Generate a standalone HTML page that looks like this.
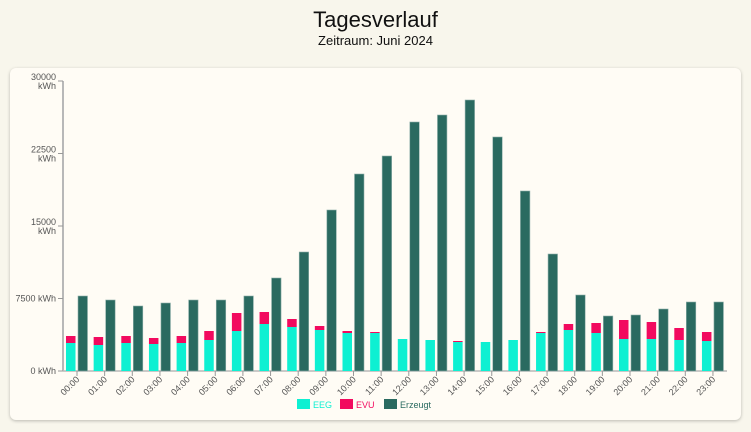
<!DOCTYPE html>
<html><head><meta charset="utf-8"><style>
html,body{margin:0;padding:0;background:#f8f6ec;width:751px;height:432px;overflow:hidden;font-family:"Liberation Sans",sans-serif}
.card{position:absolute;left:10px;top:68px;width:731px;height:352px;background:#fffcf5;border-radius:6px;box-shadow:0 1px 3px rgba(0,0,0,0.25)}
</style></head><body>
<div style="position:absolute;top:7px;width:751px;text-align:center;font-size:22px;color:#111">Tagesverlauf</div>
<div style="position:absolute;top:33px;width:751px;text-align:center;font-size:13px;color:#111">Zeitraum: Juni 2024</div>
<div class="card"></div>
<svg id="s" width="751" height="432" style="position:absolute;left:0;top:0" font-family="Liberation Sans, sans-serif"></svg>
<script>
var s=document.getElementById('s'),h='';
var erz=[296,300,306,303,300,300,296,278,252,210,174,156,122,115,100,137,191,254,295,316,315,309,302,302];
var eeg=[343,345,343,344,343,340,331,324,327,330,333,333,339,340,342,342,340,333,330,333,339,339,340,341];
var red=[336,337,336,338,336,331,313,312,319,326,331,332,339,340,341,342,340,332,324,323,320,322,328,332];
var y0=371;
h+='<line x1="63" y1="81" x2="63" y2="371" stroke="#b8b8b8" stroke-width="2"/>';
h+='<line x1="63" y1="371" x2="727" y2="371" stroke="#b8b8b8" stroke-width="1.5"/>';
var yl=[[371,'0 kWh',null],[298.5,'7500 kWh',null],[226,'15000','kWh'],[153.5,'22500','kWh'],[81,'30000','kWh']];
yl.forEach(function(a){h+='<line x1="58" x2="63" y1="'+a[0]+'" y2="'+a[0]+'" stroke="#999"/>';
if(a[2]){h+='<text x="56" y="'+(a[0]-1)+'" font-size="9" fill="#555" text-anchor="end">'+a[1]+'</text><text x="56" y="'+(a[0]+8)+'" font-size="9" fill="#555" text-anchor="end">'+a[2]+'</text>';}
else h+='<text x="56" y="'+(a[0]+3)+'" font-size="9" fill="#555" text-anchor="end">'+a[1]+'</text>';});
for(var i=0;i<24;i++){var x=66+27.65*i;
h+='<rect x="'+x+'" y="'+red[i]+'" width="9.5" height="'+(eeg[i]-red[i])+'" fill="#f20a5f"/>';
h+='<rect x="'+x+'" y="'+eeg[i]+'" width="9.5" height="'+(y0-eeg[i])+'" fill="#0ef0d2"/>';
h+='<rect x="'+(x+12)+'" y="'+erz[i]+'" width="9.5" height="'+(y0-erz[i])+'" fill="#2a6a60" stroke="#8fb0aa" stroke-width="0.6"/>';
var tx=x+11;h+='<line x1="'+tx+'" x2="'+tx+'" y1="371" y2="376" stroke="#999"/>';
var l=(i<10?'0':'')+i+':00';
h+='<text transform="translate('+(tx+3)+',380) rotate(-45)" font-size="9" fill="#555" text-anchor="end">'+l+'</text>';}
h+='<rect x="297" y="399" width="13" height="10" fill="#0ef0d2"/><text x="313" y="408" font-size="9" fill="#0ef0d2">EEG</text>';
h+='<rect x="340" y="399" width="13" height="10" fill="#f20a5f"/><text x="356" y="408" font-size="9" fill="#f20a5f">EVU</text>';
h+='<rect x="384" y="399" width="13" height="10" fill="#2a6a60"/><text x="400" y="408" font-size="9" fill="#2a6a60">Erzeugt</text>';
s.innerHTML=h;
</script>
</body></html>
